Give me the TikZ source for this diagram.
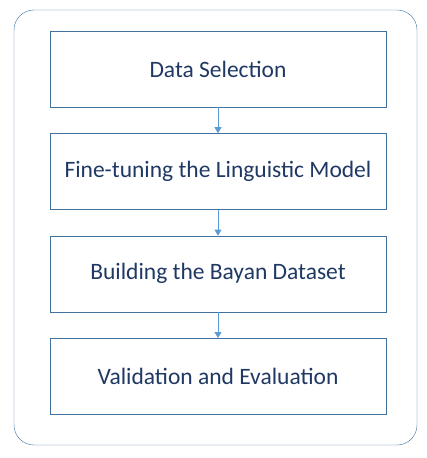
\documentclass[tikz,border=0pt]{standalone}
\usepackage{fontspec}
\setmainfont{Carlito}
\usetikzlibrary{positioning,arrows.meta}
\definecolor{frame}{HTML}{41719C}
\definecolor{arrowblue}{HTML}{5B9BD5}
\definecolor{navy}{HTML}{1F3864}
\tikzset{
  stage/.style={draw=frame,thin,minimum width=336pt,minimum height=76pt,inner sep=0pt,
    font=\fontsize{23.5}{28}\selectfont,text=navy},
  flow/.style={draw=arrowblue,thick,-{Triangle[length=6pt,width=7pt]}}
}
\begin{document}
\begin{tikzpicture}[x=1pt,y=-1pt,node distance=26pt]
\useasboundingbox (0,0) rectangle (427,458);
\draw[frame,thin,rounded corners=20pt] (14,10) rectangle (417,445);
\node[stage] (sel) at (218,69) {Data Selection};
\node[stage,below=of sel] (tune) {Fine-tuning the Linguistic Model};
\node[stage,below=of tune] (build) {Building the Bayan Dataset};
\node[stage,below=of build] (eval) {Validation and Evaluation};
\draw[flow] (sel) -- (tune);
\draw[flow] (tune) -- (build);
\draw[flow] (build) -- (eval);
\end{tikzpicture}
\end{document}
